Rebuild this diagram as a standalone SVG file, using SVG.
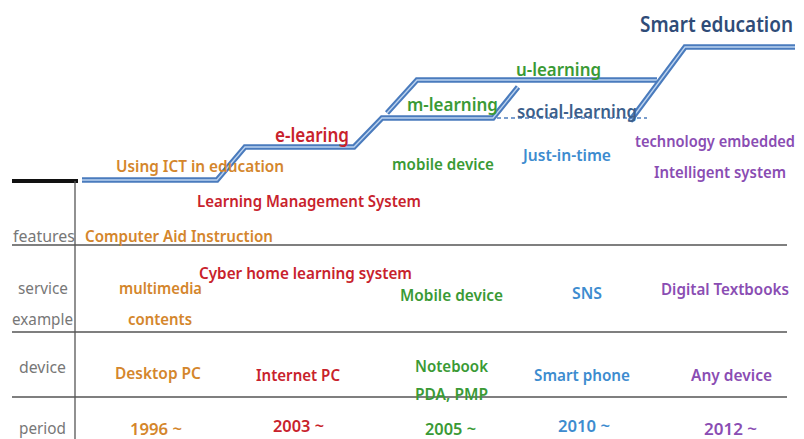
<svg xmlns="http://www.w3.org/2000/svg" width="804" height="439" viewBox="0 0 804 439">
<style>
text{font-family:"Noto Sans","Open Sans","Liberation Sans",sans-serif;font-weight:600;font-size:16px}
.g{fill:#777;font-weight:400}
.or{fill:#d4862c}.rd{fill:#c8222c}.gr{fill:#3a9a35}.bl{fill:#3d8ccf}.pu{fill:#8a4db3}.db{fill:#2f4c78}.sb{fill:#3c5f8c}
.rail{fill:none;stroke:#4a7bbd;stroke-width:5.5;stroke-linejoin:miter}
.rin{fill:none;stroke:#bcd3ef;stroke-width:1.3}
.grid{stroke:#555;stroke-width:1.3}
</style>
<g id="table">
<line x1="12" y1="181" x2="78" y2="181" stroke="#111" stroke-width="4"/>
<line x1="75" y1="181" x2="75" y2="439" class="grid"/>
<line x1="12" y1="245" x2="787" y2="245" class="grid"/>
<line x1="12" y1="332" x2="787" y2="332" class="grid"/>
<line x1="12" y1="397" x2="787" y2="397" class="grid"/>
<text x="13" y="242" class="g" textLength="62" lengthAdjust="spacingAndGlyphs">features</text>
<text x="18" y="294" class="g" textLength="50" lengthAdjust="spacingAndGlyphs">service</text>
<text x="12" y="325" class="g" textLength="61" lengthAdjust="spacingAndGlyphs">example</text>
<text x="19" y="373" class="g" textLength="47" lengthAdjust="spacingAndGlyphs">device</text>
<text x="19" y="434" class="g" textLength="47" lengthAdjust="spacingAndGlyphs">period</text>
</g>
<g id="connectors">
<path class="rail" d="M82 180 H217 L245 147 H354 L382 118 H493 L518 87"/>
<path class="rin" d="M82 180 H217 L245 147 H354 L382 118 H493 L518 87"/>
<path class="rail" d="M387 113 L417 80 H657"/>
<path class="rin" d="M387 113 L417 80 H657"/>
<path class="rail" d="M630 121 L685 47 H795"/>
<path class="rin" d="M630 121 L685 47 H795"/>
<line x1="497" y1="118" x2="647" y2="118" stroke="#4f7fbf" stroke-width="1.6" stroke-dasharray="4 3"/>
</g>
<g id="stage-ict">
<text x="116" y="172" class="or" textLength="168" lengthAdjust="spacingAndGlyphs">Using ICT in education</text>
<text x="85" y="242" class="or" textLength="188" lengthAdjust="spacingAndGlyphs">Computer Aid Instruction</text>
<text x="119" y="294" class="or" textLength="83" lengthAdjust="spacingAndGlyphs">multimedia</text>
<text x="128" y="325" class="or" textLength="64" lengthAdjust="spacingAndGlyphs">contents</text>
<text x="115" y="379" class="or" textLength="86" lengthAdjust="spacingAndGlyphs">Desktop PC</text>
<text x="130" y="435" class="or" textLength="52" lengthAdjust="spacingAndGlyphs">1996 ~</text>
</g>
<g id="stage-elearning">
<text x="275" y="142" class="rd" style="font-size:19px" textLength="74" lengthAdjust="spacingAndGlyphs">e-learing</text>
<text x="197" y="207" class="rd" textLength="224" lengthAdjust="spacingAndGlyphs">Learning Management System</text>
<text x="199" y="279" class="rd" textLength="213" lengthAdjust="spacingAndGlyphs">Cyber home learning system</text>
<text x="256" y="381" class="rd" textLength="84" lengthAdjust="spacingAndGlyphs">Internet PC</text>
<text x="273" y="432" class="rd" textLength="51" lengthAdjust="spacingAndGlyphs">2003 ~</text>
</g>
<g id="stage-mlearning">
<text x="407" y="111" class="gr" style="font-size:17px" textLength="91" lengthAdjust="spacingAndGlyphs">m-learning</text>
<text x="392" y="170" class="gr" textLength="102" lengthAdjust="spacingAndGlyphs">mobile device</text>
<text x="400" y="301" class="gr" textLength="103" lengthAdjust="spacingAndGlyphs">Mobile device</text>
<text x="415" y="372" class="gr" textLength="73" lengthAdjust="spacingAndGlyphs">Notebook</text>
<text x="415" y="400" class="gr" textLength="73" lengthAdjust="spacingAndGlyphs">PDA, PMP</text>
<text x="425" y="435" class="gr" textLength="51" lengthAdjust="spacingAndGlyphs">2005 ~</text>
</g>
<g id="stage-ulearning">
<text x="516" y="76" class="gr" style="font-size:17px" textLength="85" lengthAdjust="spacingAndGlyphs">u-learning</text>
<text x="517" y="118" class="sb" style="font-size:17px" textLength="120" lengthAdjust="spacingAndGlyphs">social-learning</text>
<text x="523" y="161" class="bl" textLength="88" lengthAdjust="spacingAndGlyphs">Just-in-time</text>
<text x="572" y="299" class="bl" textLength="30" lengthAdjust="spacingAndGlyphs">SNS</text>
<text x="534" y="381" class="bl" textLength="96" lengthAdjust="spacingAndGlyphs">Smart phone</text>
<text x="558" y="432" class="bl" textLength="52" lengthAdjust="spacingAndGlyphs">2010 ~</text>
</g>
<g id="stage-smart">
<text x="640" y="32" class="db" style="font-size:21px" textLength="153" lengthAdjust="spacingAndGlyphs">Smart education</text>
<text x="635" y="147" class="pu" textLength="160" lengthAdjust="spacingAndGlyphs">technology embedded</text>
<text x="654" y="178" class="pu" textLength="132" lengthAdjust="spacingAndGlyphs">Intelligent system</text>
<text x="661" y="295" class="pu" textLength="128" lengthAdjust="spacingAndGlyphs">Digital Textbooks</text>
<text x="691" y="381" class="pu" textLength="81" lengthAdjust="spacingAndGlyphs">Any device</text>
<text x="704" y="435" class="pu" textLength="53" lengthAdjust="spacingAndGlyphs">2012 ~</text>
</g>
</svg>
